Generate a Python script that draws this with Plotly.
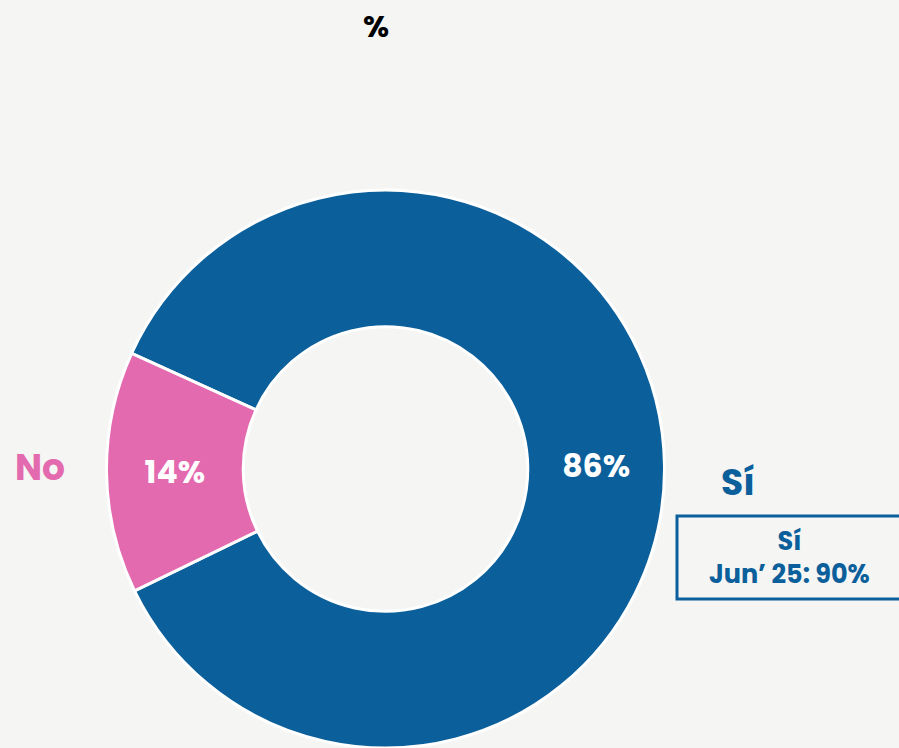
import plotly.graph_objects as go

labels = ["Sí", "No"]
values = [86, 14]
colors = ["#0B5F9B", "#E36AAE"]
title_text = "%"
note_lines = ["Sí", "Jun’ 25: 90%"]

W, H = 899, 748
T, B = 190, 0
FONT = "Poppins, Inter, 'Open Sans', sans-serif"

def px(x):
    return x / W

def py(y):
    return (H - B - y) / (H - T - B)

R = (H - T - B) / 2
CX = 385.5

fig = go.Figure()
fig.add_trace(go.Pie(
    labels=labels,
    values=values,
    hole=0.51,
    sort=False,
    direction="clockwise",
    rotation=294.5,
    marker=dict(colors=colors, line=dict(color="white", width=3)),
    texttemplate="%{value}%",
    textposition="inside",
    insidetextorientation="horizontal",
    textfont=dict(family=FONT, size=31.5, color="white", weight="bold"),
    domain=dict(x=[px(CX - R), px(CX + R)], y=[0, 1]),
    showlegend=False,
    hoverinfo="label+percent",
))

annotations = [
    dict(x=px(40), y=py(467), text=labels[1], font=dict(family=FONT, size=36, color=colors[1], weight="bold")),
    dict(x=px(738), y=py(482), text=labels[0], font=dict(family=FONT, size=36, color=colors[0], weight="bold")),
    dict(x=px(789), y=py(557), text="<br>".join(note_lines),
         font=dict(family=FONT, size=25.5, color=colors[0], weight="bold")),
]
for a in annotations:
    a.update(xref="paper", yref="paper", showarrow=False, xanchor="center", yanchor="middle")

fig.add_shape(type="rect", xref="paper", yref="paper",
              x0=px(677), x1=px(905), y0=py(516), y1=py(599),
              line=dict(color=colors[0], width=3), fillcolor="rgba(255,255,255,0)")

fig.update_layout(
    width=W, height=H,
    margin=dict(l=0, r=0, t=T, b=B),
    paper_bgcolor="#F5F5F4",
    plot_bgcolor="#F5F5F4",
    title=dict(text=title_text, x=px(376), xanchor="center", y=1 - 26 / H, yanchor="middle",
               font=dict(family=FONT, size=30, color="black", weight="bold")),
    annotations=annotations,
)

fig.write_html("out.html",
               config={"displayModeBar": False},
               post_script="document.body.style.margin='0';document.body.style.overflow='hidden';")
